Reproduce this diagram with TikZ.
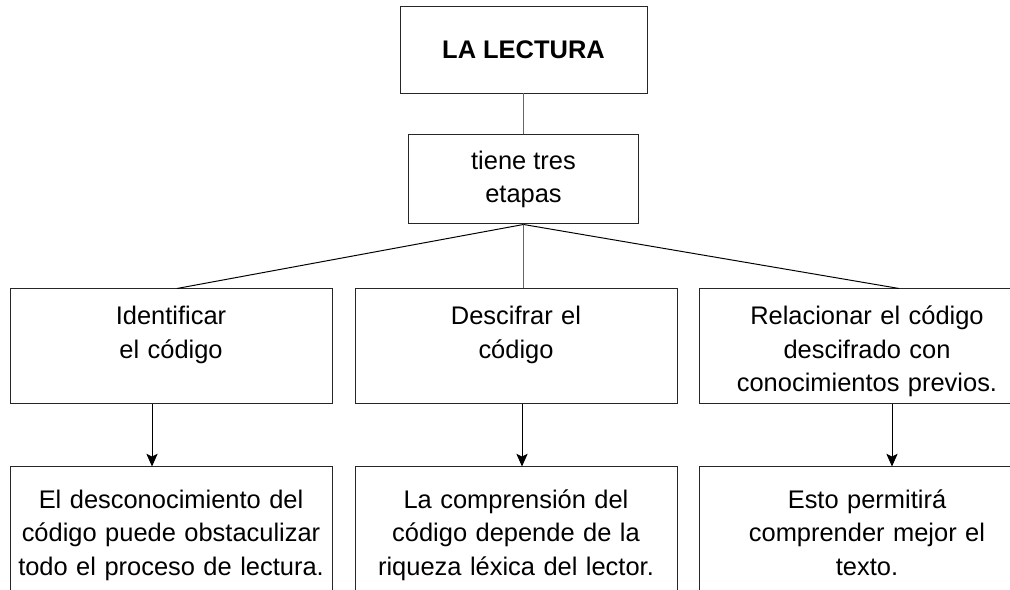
\documentclass[tikz,border=0pt]{standalone}
\usepackage{fontspec}
\setmainfont{Liberation Sans}
\usetikzlibrary{arrows.meta, positioning}

\begin{document}
\begin{tikzpicture}[
    font=\fontsize{18.1pt}{23.5pt}\selectfont,
    box/.style      = {rectangle, draw=black!85, line width=0.7pt, align=center},
    titlebox/.style = {box, minimum width=6.175cm, minimum height=2.175cm, font=\fontsize{18.1pt}{23.5pt}\selectfont\bfseries},
    linkbox/.style  = {box, minimum width=5.75cm, minimum height=2.225cm},
    stagebox/.style = {box, text width=7.8cm, inner xsep=0.125cm, inner ysep=0pt, text height=0.9cm, text depth=1.975cm},
    notebox/.style  = {box, text width=7.8cm, inner xsep=0.125cm, inner ysep=0pt, text height=1.05cm, text depth=4cm},
    link/.style     = {line width=0.7pt},
    arrow/.style    = {-{Stealth[length=9pt, width=8pt, inset=2pt]}, line width=0.7pt}
]
\useasboundingbox (0,0) rectangle (25.25,-14.75);
\clip (0,0) rectangle (25.25,-14.75);

% --- Tema ---
\node[titlebox] (lectura) at (13.0875,-1.2375) {LA LECTURA};
\node[linkbox, below=1.025cm of lectura] (etapas) {tiene tres\\ etapas};

% --- Etapas ---
\node[stagebox, below=1.6cm of etapas, xshift=-0.1875cm] (descifrar) {Descifrar el\\ código};
\node[stagebox, left=0.55cm of descifrar] (identificar) {Identificar\\ el código};
\node[stagebox, right=0.55cm of descifrar, text width=8.1cm] (relacionar) {Relacionar el código\\ descifrado con\\ conocimientos previos.};

% --- Consecuencias ---
\node[notebox, below=1.55cm of identificar] (desconocimiento) {El desconocimiento del\\ código puede obstaculizar\\ todo el proceso de lectura.};
\node[notebox, below=1.55cm of descifrar] (comprension) {La comprensión del\\ código depende de la\\ riqueza léxica del lector.};
\node[notebox, below=1.55cm of relacionar, text width=8.1cm] (permitira) {Esto permitirá\\ comprender mejor el\\ texto.};

% --- Conectores ---
\draw[link, black!60] (lectura.south) -- (lectura.south |- etapas.north);
\draw[link] (etapas.south) -- ([xshift=0.15cm]identificar.north);
\draw[link, black!60] (etapas.south) -- (etapas.south |- descifrar.north);
\draw[link] (etapas.south) -- ([xshift=0.8cm]relacionar.north);

\draw[arrow] ([xshift=-0.475cm]identificar.south) -- ([xshift=-0.475cm]identificar.south |- desconocimiento.north);
\draw[arrow] ([xshift=0.15cm]descifrar.south) -- ([xshift=0.15cm]descifrar.south |- comprension.north);
\draw[arrow] ([xshift=0.625cm]relacionar.south) -- ([xshift=0.625cm]relacionar.south |- permitira.north);

\end{tikzpicture}
\end{document}
